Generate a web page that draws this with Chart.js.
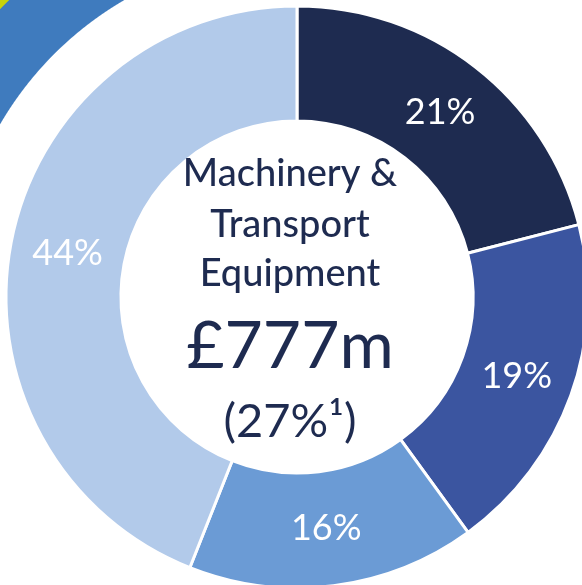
<!DOCTYPE html>
<html>
<head>
<meta charset="utf-8">
<script src="https://cdn.jsdelivr.net/npm/chart.js@4.4.1/dist/chart.umd.min.js"></script>
<style>
  html, body { margin:0; padding:0; width:582px; height:585px; overflow:hidden; background:#ffffff; }
  /* decorative ring peeking in at the top-left corner */
  .corner {
    position:absolute; left:0; top:0; width:200px; height:200px;
    background: radial-gradient(circle at 297px 297px, #ffffff 0px, #ffffff 343px, #3f7bbe 344px, #3f7bbe 413px, #c8d30a 414px);
  }
  .chart-container { position:absolute; left:0; top:0; width:594px; height:594px; }
</style>
</head>
<body>
<div class="corner"></div>
<div class="chart-container"><canvas id="donutChart"></canvas></div>
<script>
// Machinery & Transport Equipment breakdown
const SEGMENTS = ['Segment A', 'Segment B', 'Segment C', 'Segment D'];
const SHARES   = [21, 19, 16, 44];
const COLOURS  = ['#1e2b50', '#3b55a0', '#6b9bd5', '#b2caea'];
const CENTRE_LINES = ['Machinery &', 'Transport', 'Equipment'];
const CENTRE_VALUE = '£777m';
const CENTRE_SHARE = '(27%¹)';

const NAVY = '#1e2b50';
const FONT = "Lato, 'Open Sans', sans-serif";

// slice labels at the middle of each arc
const sliceLabels = {
  id: 'sliceLabels',
  afterDatasetsDraw(chart) {
    const ctx = chart.ctx;
    const meta = chart.getDatasetMeta(0);
    ctx.save();
    ctx.fillStyle = '#ffffff';
    ctx.font = `36px ${FONT}`;
    ctx.textAlign = 'center';
    ctx.textBaseline = 'middle';
    meta.data.forEach((arc, i) => {
      const p = arc.tooltipPosition();
      ctx.fillText(SHARES[i] + '%', p.x, p.y);
    });
    ctx.restore();
  }
};

// text in the hole
const centreText = {
  id: 'centreText',
  afterDraw(chart) {
    const ctx = chart.ctx;
    const arc = chart.getDatasetMeta(0).data[0];
    const cx = arc.x - 7, cy = arc.y;
    ctx.save();
    ctx.fillStyle = NAVY;
    ctx.textAlign = 'center';
    ctx.textBaseline = 'alphabetic';
    ctx.font = `500 38px ${FONT}`;
    ctx.fillText(CENTRE_LINES[0], cx, cy - 111);
    ctx.fillText(CENTRE_LINES[1], cx, cy - 60);
    ctx.fillText(CENTRE_LINES[2], cx, cy - 11);
    ctx.font = `66px ${FONT}`;
    ctx.fillText(CENTRE_VALUE, cx, cy + 71);
    ctx.font = `47px ${FONT}`;
    ctx.fillText(CENTRE_SHARE, cx, cy + 140);
    ctx.restore();
  }
};

new Chart(document.getElementById('donutChart'), {
  type: 'doughnut',
  data: {
    labels: SEGMENTS,
    datasets: [{
      data: SHARES,
      backgroundColor: COLOURS,
      borderColor: '#ffffff',
      borderWidth: 3
    }]
  },
  options: {
    responsive: true,
    maintainAspectRatio: false,
    animation: false,
    radius: 291,
    cutout: '60.5%',
    layout: { padding: 0 },
    plugins: { legend: { display: false }, tooltip: { enabled: false } }
  },
  plugins: [sliceLabels, centreText]
});
</script>
</body>
</html>
